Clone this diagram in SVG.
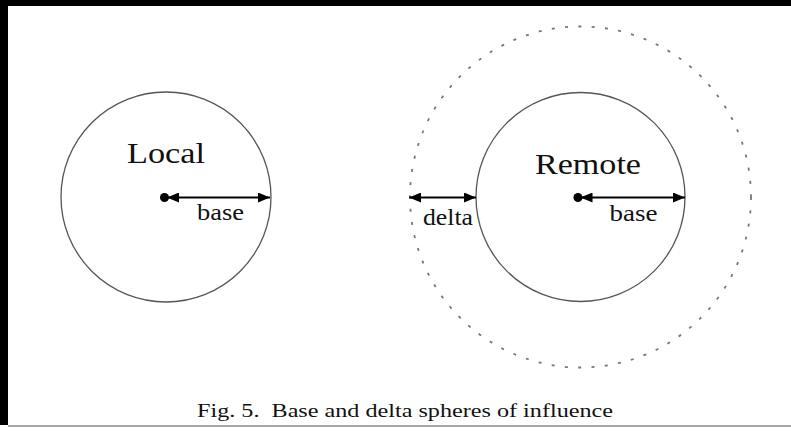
<svg xmlns="http://www.w3.org/2000/svg" width="791" height="433" viewBox="0 0 791 433">
  <style>
    .sphere { fill: none; stroke: #555; stroke-width: 1.3; }
    .delta { fill: none; stroke: #777; stroke-width: 1.8; stroke-dasharray: 3 10.35; }
    text { font-family: "Liberation Serif", "Times New Roman", serif; fill: #111; }
    .big { font-size: 30px; }
    .lbl { font-size: 24px; }
    .cap { font-size: 19px; }
    .conn { stroke: #000; stroke-width: 2; fill: none; }
    .hub { fill: #000; }
  </style>
  <defs>
    <marker id="ah" viewBox="0 0 12 10" refX="12" refY="5" markerWidth="12" markerHeight="10" markerUnits="userSpaceOnUse" orient="auto-start-reverse">
      <path d="M0,0 L12,5 L0,10 Z" fill="#000"/>
    </marker>
  </defs>
  <rect x="0" y="0" width="791" height="433" fill="#fff"/>
  <rect x="0" y="0" width="791" height="6" fill="#000"/>
  <rect x="0" y="0" width="8" height="425" fill="#000"/>
  <line x1="8" y1="426" x2="791" y2="426" stroke="#888" stroke-width="1.5"/>

  <g id="local">
    <circle class="sphere" cx="166" cy="197" r="105"/>
    <text class="big" x="127" y="163" textLength="78" lengthAdjust="spacingAndGlyphs">Local</text>
    <circle class="hub" cx="164.5" cy="197.5" r="4.5"/>
  </g>

  <g id="delta-sphere">
    <circle class="delta" cx="580.5" cy="197" r="170.5"/>
  </g>

  <g id="remote">
    <circle class="sphere" cx="580.5" cy="197" r="104.5"/>
    <text class="big" x="535" y="174" textLength="106" lengthAdjust="spacingAndGlyphs">Remote</text>
    <circle class="hub" cx="578" cy="197.5" r="4.5"/>
  </g>

  <g id="connectors">
    <line class="conn" x1="167" y1="197.5" x2="270" y2="197.5" marker-start="url(#ah)" marker-end="url(#ah)"/>
    <line class="conn" x1="580.5" y1="197.5" x2="685" y2="197.5" marker-start="url(#ah)" marker-end="url(#ah)"/>
    <line class="conn" x1="409" y1="197.5" x2="476" y2="197.5" marker-start="url(#ah)" marker-end="url(#ah)"/>
    <text class="lbl" x="197" y="220" textLength="47" lengthAdjust="spacingAndGlyphs">base</text>
    <text class="lbl" x="609.5" y="221" textLength="48" lengthAdjust="spacingAndGlyphs">base</text>
    <text class="lbl" x="423" y="225" textLength="50" lengthAdjust="spacingAndGlyphs">delta</text>
  </g>

  <text class="cap" x="197" y="417" textLength="416" lengthAdjust="spacingAndGlyphs" xml:space="preserve">Fig. 5.  Base and delta spheres of influence</text>
</svg>
